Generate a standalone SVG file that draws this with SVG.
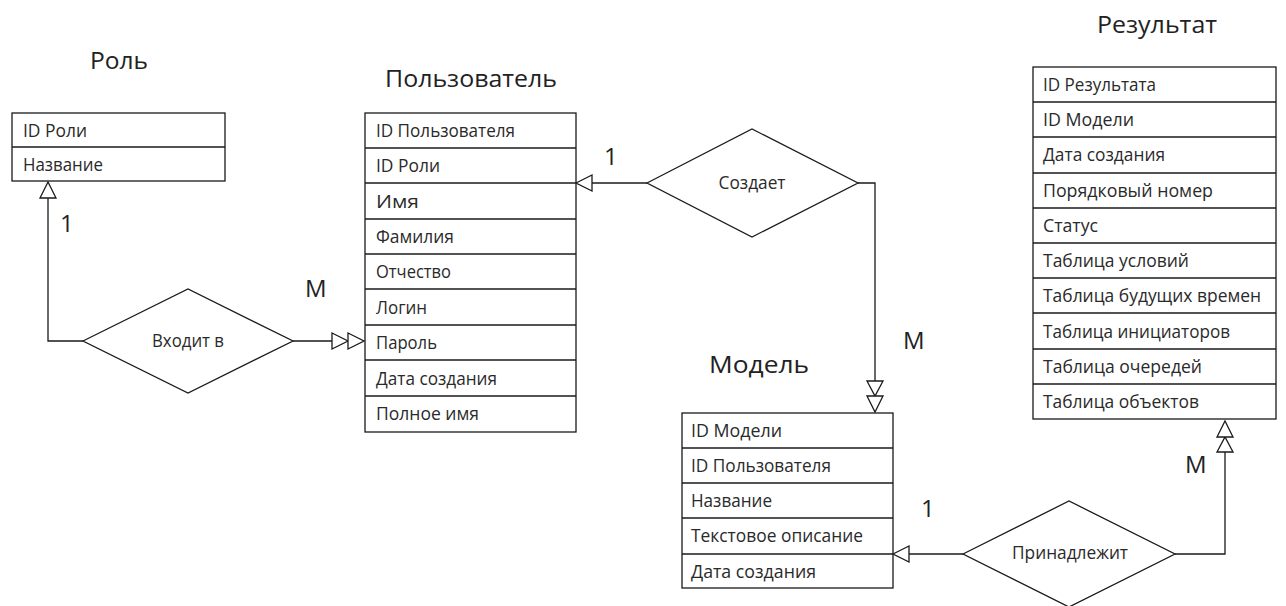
<svg xmlns="http://www.w3.org/2000/svg" width="1286" height="606" viewBox="0 0 1286 606">
<style>
.bg{fill:#ffffff}
.box{fill:#ffffff;stroke:#1a1a1a;stroke-width:1.3}
.div{stroke:#1a1a1a;stroke-width:1.3}
.cell{font-family:"Open Sans","Liberation Sans",sans-serif;font-size:18px;fill:#2a2a2a}
.title{font-family:"Open Sans","Liberation Sans",sans-serif;font-size:24px;fill:#222222}
.lbl{font-family:"Open Sans","Liberation Sans",sans-serif;font-size:24px;fill:#222222}
.dia{fill:#ffffff;stroke:#1a1a1a;stroke-width:1.3}
.dtext{font-family:"Open Sans","Liberation Sans",sans-serif;font-size:18px;fill:#2a2a2a;text-anchor:middle}
.line{fill:none;stroke:#1a1a1a;stroke-width:1.3}
.arr{fill:#ffffff;stroke:#1a1a1a;stroke-width:1.3;stroke-linejoin:miter}
</style>
<rect class="bg" x="0" y="0" width="1286" height="606"/>

<g id="connectors">
  <polyline class="line" points="48,198 48,341 83,341"/>
  <polygon class="arr" points="48,182 40,198 56,198"/>
  <line class="line" x1="293" y1="341" x2="332" y2="341"/>
  <polygon class="arr" points="332,333 348,341 332,349"/>
  <polygon class="arr" points="348,333 364,341 348,349"/>
  <line class="line" x1="647" y1="183" x2="592" y2="183"/>
  <polygon class="arr" points="576,183 592,175 592,191"/>
  <polyline class="line" points="858,183 875,183 875,381"/>
  <polygon class="arr" points="867,381 883,381 875,396"/>
  <polygon class="arr" points="867,396 883,396 875,412"/>
  <line class="line" x1="963" y1="554" x2="909" y2="554"/>
  <polygon class="arr" points="893,554 909,546 909,562"/>
  <polyline class="line" points="1175,554 1225,554 1225,452"/>
  <polygon class="arr" points="1217,452 1233,452 1225,437"/>
  <polygon class="arr" points="1217,437 1233,437 1225,421"/>
  <text class="lbl" x="60" y="232">1</text>
  <text class="lbl" x="305" y="297">M</text>
  <text class="lbl" x="604" y="165">1</text>
  <text class="lbl" x="903" y="349">M</text>
  <text class="lbl" x="921" y="517">1</text>
  <text class="lbl" x="1185" y="473">M</text>
</g>

<g id="role">
  <text class="title" x="90" y="69" textLength="58" lengthAdjust="spacingAndGlyphs">Роль</text>
  <rect class="box" x="12" y="113" width="213" height="68"/>
  <line class="div" x1="12" y1="147" x2="225" y2="147"/>
  <text class="cell" x="23" y="137" textLength="64" lengthAdjust="spacingAndGlyphs">ID Роли</text>
  <text class="cell" x="23" y="171" textLength="80" lengthAdjust="spacingAndGlyphs">Название</text>
</g>

<g id="user">
  <text class="title" x="385" y="87" textLength="172" lengthAdjust="spacingAndGlyphs">Пользователь</text>
  <rect class="box" x="365" y="113" width="211" height="319"/>
  <line class="div" x1="365" y1="148" x2="576" y2="148"/>
  <line class="div" x1="365" y1="183" x2="576" y2="183"/>
  <line class="div" x1="365" y1="219" x2="576" y2="219"/>
  <line class="div" x1="365" y1="254" x2="576" y2="254"/>
  <line class="div" x1="365" y1="289" x2="576" y2="289"/>
  <line class="div" x1="365" y1="325" x2="576" y2="325"/>
  <line class="div" x1="365" y1="360" x2="576" y2="360"/>
  <line class="div" x1="365" y1="396" x2="576" y2="396"/>
  <text class="cell" x="376" y="137" textLength="139" lengthAdjust="spacingAndGlyphs">ID Пользователя</text>
  <text class="cell" x="376" y="172" textLength="64" lengthAdjust="spacingAndGlyphs">ID Роли</text>
  <text class="cell" x="376" y="208" textLength="43" lengthAdjust="spacingAndGlyphs">Имя</text>
  <text class="cell" x="376" y="243" textLength="78" lengthAdjust="spacingAndGlyphs">Фамилия</text>
  <text class="cell" x="376" y="278" textLength="75" lengthAdjust="spacingAndGlyphs">Отчество</text>
  <text class="cell" x="376" y="314" textLength="51" lengthAdjust="spacingAndGlyphs">Логин</text>
  <text class="cell" x="376" y="349" textLength="61" lengthAdjust="spacingAndGlyphs">Пароль</text>
  <text class="cell" x="376" y="385" textLength="121" lengthAdjust="spacingAndGlyphs">Дата создания</text>
  <text class="cell" x="376" y="420" textLength="103" lengthAdjust="spacingAndGlyphs">Полное имя</text>
</g>

<g id="model">
  <text class="title" x="709" y="373" textLength="100" lengthAdjust="spacingAndGlyphs">Модель</text>
  <rect class="box" x="682" y="413" width="211" height="175"/>
  <line class="div" x1="682" y1="448" x2="893" y2="448"/>
  <line class="div" x1="682" y1="483" x2="893" y2="483"/>
  <line class="div" x1="682" y1="518" x2="893" y2="518"/>
  <line class="div" x1="682" y1="554" x2="893" y2="554"/>
  <text class="cell" x="691" y="437" textLength="91" lengthAdjust="spacingAndGlyphs">ID Модели</text>
  <text class="cell" x="691" y="472" textLength="140" lengthAdjust="spacingAndGlyphs">ID Пользователя</text>
  <text class="cell" x="691" y="507" textLength="81" lengthAdjust="spacingAndGlyphs">Название</text>
  <text class="cell" x="691" y="542" textLength="172" lengthAdjust="spacingAndGlyphs">Текстовое описание</text>
  <text class="cell" x="691" y="578" textLength="125" lengthAdjust="spacingAndGlyphs">Дата создания</text>
</g>

<g id="result">
  <text class="title" x="1097" y="33" textLength="120" lengthAdjust="spacingAndGlyphs">Результат</text>
  <rect class="box" x="1033" y="67" width="243" height="352"/>
  <line class="div" x1="1033" y1="102" x2="1276" y2="102"/>
  <line class="div" x1="1033" y1="137" x2="1276" y2="137"/>
  <line class="div" x1="1033" y1="173" x2="1276" y2="173"/>
  <line class="div" x1="1033" y1="208" x2="1276" y2="208"/>
  <line class="div" x1="1033" y1="243" x2="1276" y2="243"/>
  <line class="div" x1="1033" y1="278" x2="1276" y2="278"/>
  <line class="div" x1="1033" y1="313" x2="1276" y2="313"/>
  <line class="div" x1="1033" y1="349" x2="1276" y2="349"/>
  <line class="div" x1="1033" y1="384" x2="1276" y2="384"/>
  <text class="cell" x="1043" y="91" textLength="113" lengthAdjust="spacingAndGlyphs">ID Результата</text>
  <text class="cell" x="1043" y="126" textLength="91" lengthAdjust="spacingAndGlyphs">ID Модели</text>
  <text class="cell" x="1043" y="161" textLength="122" lengthAdjust="spacingAndGlyphs">Дата создания</text>
  <text class="cell" x="1043" y="197" textLength="170" lengthAdjust="spacingAndGlyphs">Порядковый номер</text>
  <text class="cell" x="1043" y="232" textLength="55" lengthAdjust="spacingAndGlyphs">Статус</text>
  <text class="cell" x="1043" y="267" textLength="146" lengthAdjust="spacingAndGlyphs">Таблица условий</text>
  <text class="cell" x="1043" y="302" textLength="218" lengthAdjust="spacingAndGlyphs">Таблица будущих времен</text>
  <text class="cell" x="1043" y="338" textLength="187" lengthAdjust="spacingAndGlyphs">Таблица инициаторов</text>
  <text class="cell" x="1043" y="373" textLength="159" lengthAdjust="spacingAndGlyphs">Таблица очередей</text>
  <text class="cell" x="1043" y="408" textLength="156" lengthAdjust="spacingAndGlyphs">Таблица объектов</text>
</g>

<g id="rel-vhodit">
  <polygon class="dia" points="83,341 188,289 293,341 188,393"/>
  <text class="dtext" x="188" y="347" textLength="72" lengthAdjust="spacingAndGlyphs">Входит в</text>
</g>

<g id="rel-sozdaet">
  <polygon class="dia" points="647,183 752,129 858,183 752,237"/>
  <text class="dtext" x="752" y="189" textLength="67" lengthAdjust="spacingAndGlyphs">Создает</text>
</g>

<g id="rel-prinadlezhit">
  <polygon class="dia" points="963,554 1069,501 1175,554 1069,607"/>
  <text class="dtext" x="1070" y="559" textLength="116" lengthAdjust="spacingAndGlyphs">Принадлежит</text>
</g>
</svg>
